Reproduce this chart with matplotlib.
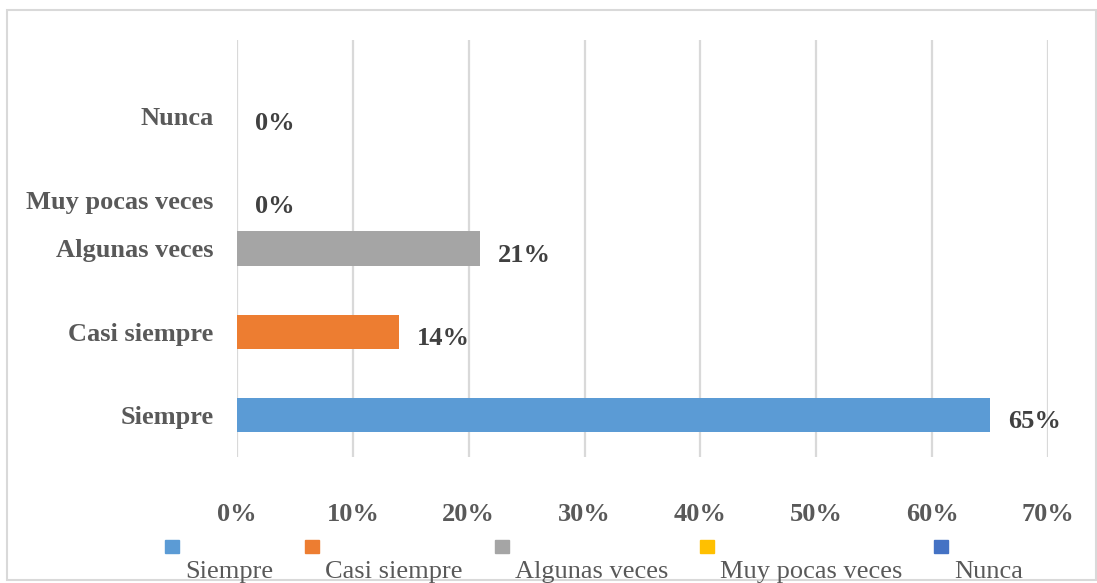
import matplotlib.pyplot as plt
from matplotlib.patches import Rectangle

categories = ['Siempre', 'Casi siempre', 'Algunas veces', 'Muy pocas veces', 'Nunca']
values = [65, 14, 21, 0, 0]
colors = ['#5b9bd5', '#ed7d31', '#a5a5a5', '#ffc000', '#4472c4']
xticks = [0, 10, 20, 30, 40, 50, 60, 70]

W, H = 1097, 583
FS = 19
plt.rcParams['font.family'] = ['Liberation Serif', 'DejaVu Serif']

fig = plt.figure(figsize=(W / 100, H / 100), dpi=100)
ax = fig.add_axes([237 / W, (H - 457) / H, (1048 - 237) / W, (457 - 40) / H])

ypos = list(range(len(categories)))
ax.barh(ypos, values, height=0.41, color=colors, zorder=2)

# category names and value labels; rows without a bar are set a bit lower
for y, v, name in zip(ypos, values, categories):
    shift = 0 if v > 0 else -25
    ax.annotate(name, (0, y), xycoords=('axes fraction', 'data'),
                xytext=(-17, shift), textcoords='offset points',
                ha='right', va='center_baseline', fontsize=FS,
                fontweight='bold', color='#595959')
    ax.annotate(f'{v}%', (v, y), xytext=(13, shift - 3),
                textcoords='offset points', ha='left', va='center_baseline',
                fontsize=FS, fontweight='bold', color='#404040')

ax.set_xlim(0, 70)
ax.set_ylim(-0.5, len(categories) - 0.5)
ax.set_xticks(xticks)
ax.set_xticklabels([f'{t}%' for t in xticks])
ax.set_yticks(ypos)
ax.set_yticklabels([])
ax.grid(axis='x', color='#d9d9d9', linewidth=1.6, zorder=0)
ax.tick_params(axis='both', length=0, labelsize=FS, colors='#595959')
ax.tick_params(axis='x', pad=33)
for lbl in ax.get_xticklabels():
    lbl.set_fontweight('bold')
for s in ax.spines.values():
    s.set_visible(False)

# legend: square on one line, name underneath shifted right
fig.canvas.draw()
renderer = fig.canvas.get_renderer()
x = 165
for name, c in zip(categories, colors):
    fig.patches.append(Rectangle((x / W, (H - 553) / H), 14 / W, 13 / H,
                                 transform=fig.transFigure, color=c))
    t = fig.text((x + 20) / W, 5 / H, name, fontsize=FS, color='#595959',
                 ha='left', va='baseline')
    w = t.get_window_extent(renderer).width
    x = x + 20 + w + 32

# chart frame
fig.patches.append(Rectangle((7 / W, 3 / H), (1096 - 7) / W, (580 - 10) / H,
                             transform=fig.transFigure, fill=False,
                             edgecolor='#d9d9d9', linewidth=1.5))

fig.savefig('out.png', dpi=100)
